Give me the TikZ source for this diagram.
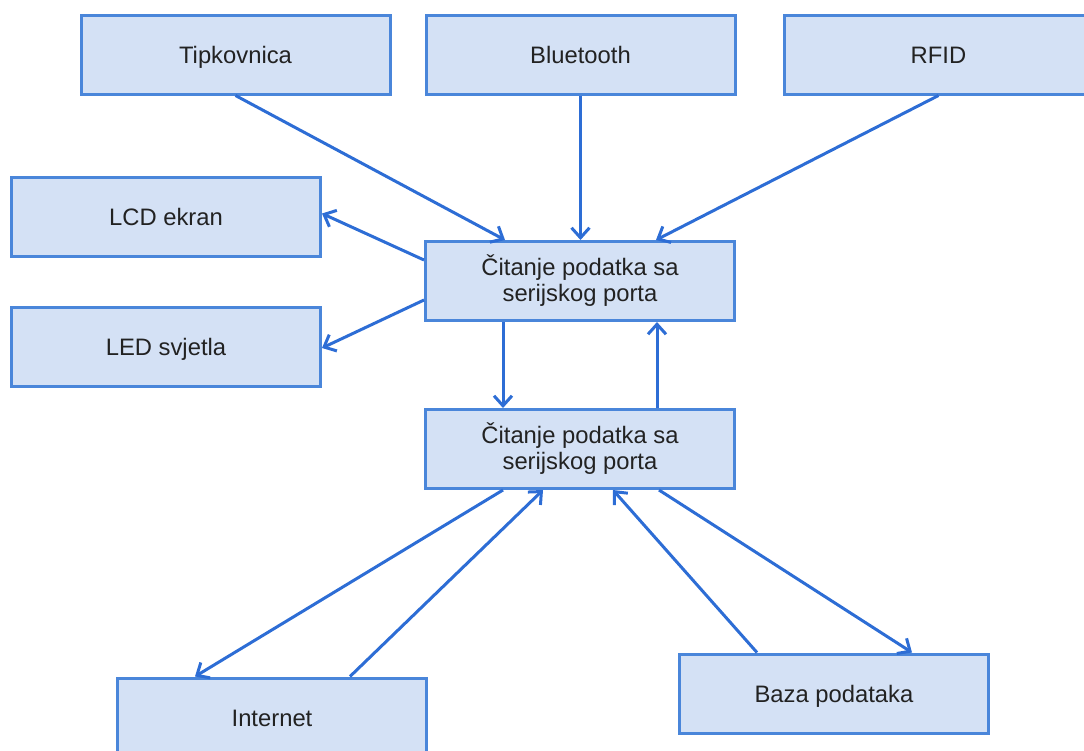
\documentclass[tikz,border=0pt]{standalone}
\usepackage{fontspec}
\setmainfont{Liberation Sans}
\usetikzlibrary{arrows.meta,calc}
\definecolor{boxfill}{HTML}{D4E1F5}
\definecolor{boxline}{HTML}{4A86DA}
\definecolor{arrline}{HTML}{2D6DD5}
\definecolor{txt}{HTML}{222222}
\tikzset{
  box/.style={draw=boxline, fill=boxfill, line width=1.5pt, rectangle,
    minimum width=154.5pt, minimum height=39.5pt, inner sep=0pt,
    align=center, text=txt, font=\fontsize{11.9}{13}\selectfont},
  single/.style={text height=9.4pt, text depth=0.6pt},
  conn/.style={draw=arrline, line width=1.5pt,
    -{Straight Barb[length=5pt,width=9pt,line width=1.5pt]}}
}
\begin{document}
\begin{tikzpicture}[x=0.5pt,y=-0.5pt]
\useasboundingbox (0,0) rectangle (1084,751);
\begin{scope}
\clip (0,0) rectangle (1084,751);
\node[box,single] (tip) at (235.5,54.5) {Tipkovnica};
\node[box,single] (blu) at (580.5,54.5) {Bluetooth};
\node[box,single] (rfid) at (938.5,54.5) {RFID};
\node[box,single] (lcd) at (166,216.5) {LCD ekran};
\node[box,single] (led) at (166,347) {LED svjetla};
\node[box] (c1) at (580,281) {Čitanje podatka sa\\serijskog porta};
\node[box] (c2) at (580,449) {Čitanje podatka sa\\serijskog porta};
\node[box,single] (int) at (272,717.5) {Internet};
\node[box,single] (baza) at (834,693.5) {Baza podataka};

\draw[conn] (tip.south) -- ($(c1.north)+(-75,0)$);
\draw[conn] (blu.south) -- ($(c1.north)+(0.5,0)$);
\draw[conn] (rfid.south) -- ($(c1.north)+(76,0)$);
\draw[conn] ($(c1.west)+(0,-21)$) -- ($(lcd.east)+(0,-3)$);
\draw[conn] ($(c1.west)+(0,19)$) -- ($(led.east)+(0,1)$);
\draw[conn] ($(c1.south)+(-77,0)$) -- ($(c2.north)+(-77,0)$);
\draw[conn] ($(c2.north)+(77,0)$) -- ($(c1.south)+(77,0)$);
\draw[conn] ($(c2.south)+(-77,0)$) -- ($(int.north)+(-77,0)$);
\draw[conn] ($(int.north)+(78,0)$) -- ($(c2.south)+(-37,0)$);
\draw[conn] ($(baza.north)+(-77,0)$) -- ($(c2.south)+(33,0)$);
\draw[conn] ($(c2.south)+(79,0)$) -- ($(baza.north)+(78,0)$);
\end{scope}
\end{tikzpicture}
\end{document}
